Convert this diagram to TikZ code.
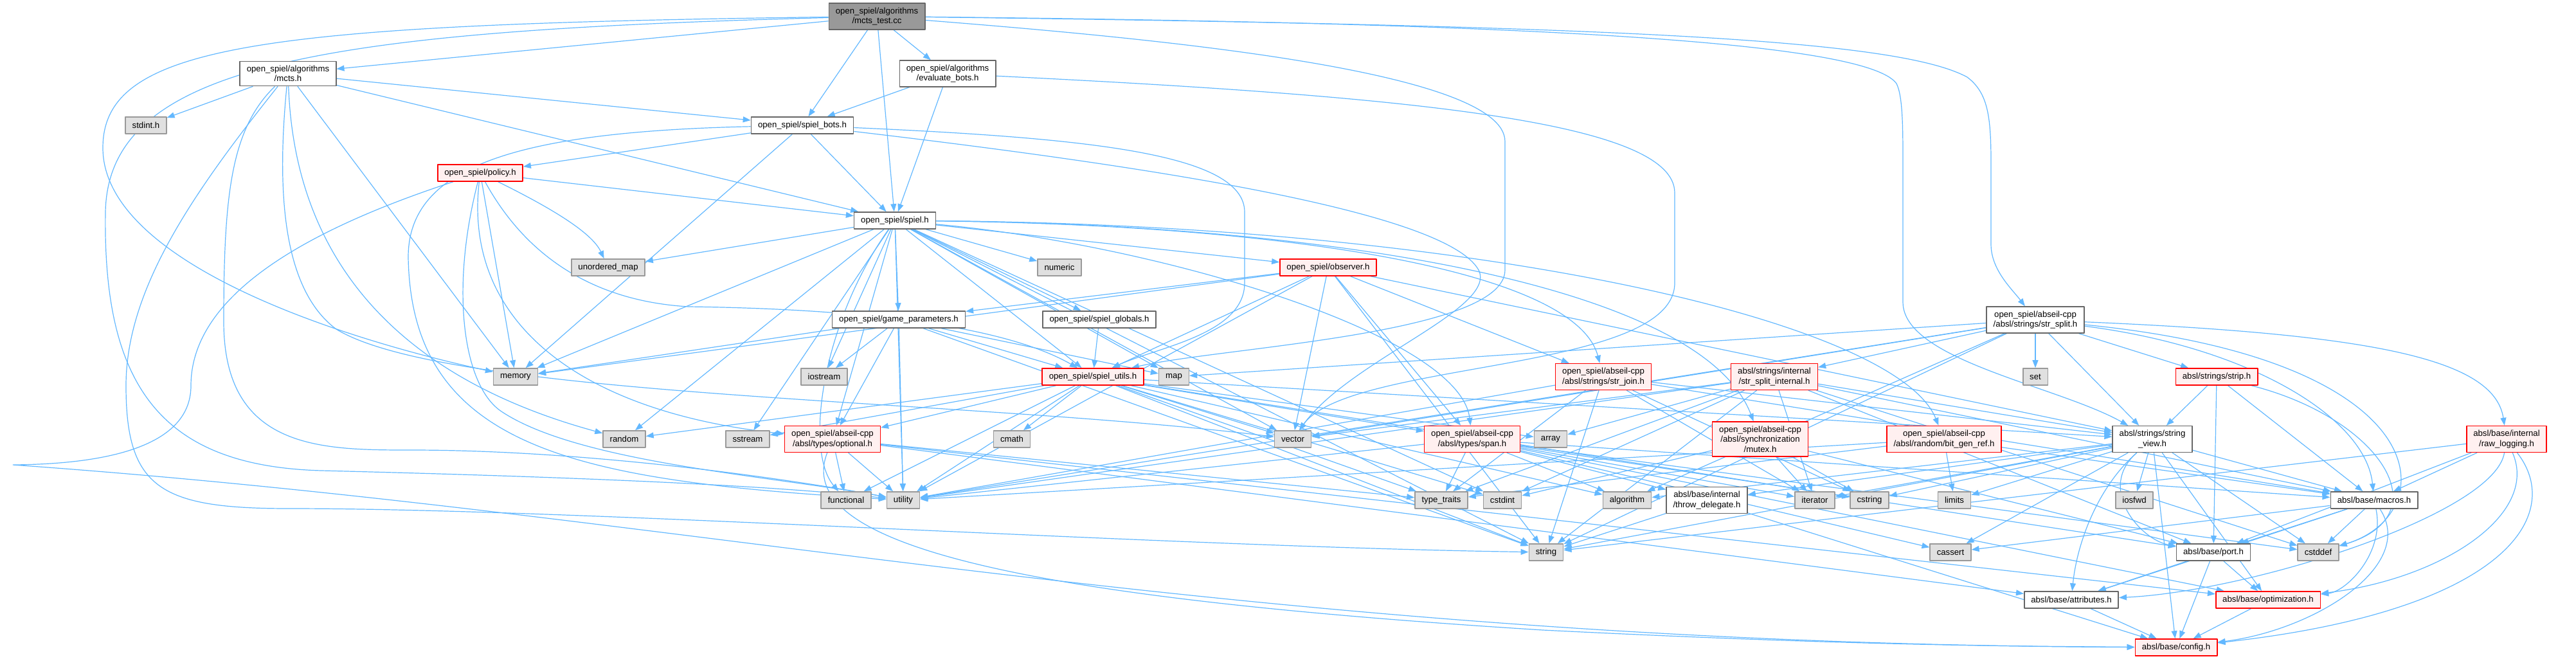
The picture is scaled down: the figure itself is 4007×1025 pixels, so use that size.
\documentclass[tikz,border=0pt]{standalone}
\usepackage{fontspec}
\setmainfont{Liberation Sans}
\usetikzlibrary{arrows.meta,backgrounds}
\definecolor{edgeblue}{HTML}{63B8FF}
\definecolor{redfill}{HTML}{FFF0F0}
\definecolor{sysfill}{HTML}{E0E0E0}
\definecolor{sysline}{HTML}{999999}
\definecolor{fileline}{HTML}{666666}
\definecolor{rootfill}{HTML}{999999}

\begin{document}
\begin{tikzpicture}[x=1pt,y=-1pt,>={Triangle[length=12pt,width=9pt]},line cap=round,line join=round,
  box/.style={draw,rectangle,line width=1.6pt,align=center,inner xsep=10.5pt,inner ysep=6.5pt,minimum height=26pt,font=\fontsize{13.2}{15.5}\selectfont},
  rootbox/.style={box,draw=fileline,fill=rootfill},
  filebox/.style={box,draw=fileline,fill=white},
  redbox/.style={box,draw=red,fill=redfill},
  sysbox/.style={box,draw=sysline,fill=sysfill},
  dep/.style={->,draw=edgeblue,line width=1.2pt}]
\useasboundingbox (0,0) rectangle (4007,1025);
\node[rootbox] (test) at (1364,25.5) {open\_spiel/algorithms\\/mcts\_test.cc};
\node[filebox] (mcts) at (448,114.5) {open\_spiel/algorithms\\/mcts.h};
\node[filebox] (evalb) at (1474,114.5) {open\_spiel/algorithms\\/evaluate\_bots.h};
\node[sysbox] (stdint) at (227,195) {stdint.h};
\node[filebox] (bots) at (1248,195) {open\_spiel/spiel\_bots.h};
\node[redbox] (policy) at (747,269) {open\_spiel/policy.h};
\node[filebox] (spiel) at (1392,343) {open\_spiel/spiel.h};
\node[sysbox] (umap) at (946,416) {unordered\_map};
\node[sysbox] (numeric) at (1648,416) {numeric};
\node[redbox] (observer) at (2066,416) {open\_spiel/observer.h};
\node[filebox] (gparams) at (1398,497) {open\_spiel/game\_parameters.h};
\node[filebox] (globals) at (1710,497) {open\_spiel/spiel\_globals.h};
\node[filebox] (strsplit) at (3166,497.5) {open\_spiel/abseil-cpp\\/absl/strings/str\_split.h};
\node[sysbox] (memory) at (802,586) {memory};
\node[sysbox] (iostream) at (1282,586) {iostream};
\node[redbox] (utils) at (1700,586) {open\_spiel/spiel\_utils.h};
\node[sysbox] (map) at (1826,586) {map};
\node[redbox] (strjoin) at (2494,586) {open\_spiel/abseil-cpp\\/absl/strings/str\_join.h};
\node[redbox] (splitint) at (2760,586) {absl/strings/internal\\/str\_split\_internal.h};
\node[sysbox] (set) at (3166,586) {set};
\node[redbox] (strip) at (3448,586) {absl/strings/strip.h};
\node[sysbox] (random) at (971,683) {random};
\node[sysbox] (sstream) at (1163,683) {sstream};
\node[redbox] (optional) at (1295,683) {open\_spiel/abseil-cpp\\/absl/types/optional.h};
\node[sysbox] (cmath) at (1574,683) {cmath};
\node[sysbox] (vector) at (2011,683) {vector};
\node[redbox] (span) at (2290,683) {open\_spiel/abseil-cpp\\/absl/types/span.h};
\node[sysbox] (array) at (2412,683) {array};
\node[redbox] (mutex) at (2738,683) {open\_spiel/abseil-cpp\\/absl/synchronization\\/mutex.h};
\node[redbox] (bitgen) at (3024,683) {open\_spiel/abseil-cpp\\/absl/random/bit\_gen\_ref.h};
\node[filebox] (strview) at (3348,683) {absl/strings/string\\\_view.h};
\node[redbox] (rawlog) at (3899,683) {absl/base/internal\\/raw\_logging.h};
\node[sysbox] (functional) at (1316,778) {functional};
\node[sysbox] (utility) at (1405,778) {utility};
\node[sysbox] (typetraits) at (2242,778) {type\_traits};
\node[sysbox] (cstdint) at (2337,778) {cstdint};
\node[sysbox] (algorithm) at (2531,778) {algorithm};
\node[filebox] (throwdel) at (2655,778) {absl/base/internal\\/throw\_delegate.h};
\node[sysbox] (iterator) at (2823,778) {iterator};
\node[sysbox] (cstring) at (2908,778) {cstring};
\node[sysbox] (limits) at (3040,778) {limits};
\node[sysbox] (iosfwd) at (3320,778) {iosfwd};
\node[filebox] (macros) at (3693,778) {absl/base/macros.h};
\node[sysbox] (string) at (2405,859) {string};
\node[sysbox] (cassert) at (3034,859) {cassert};
\node[filebox] (port) at (3443,859) {absl/base/port.h};
\node[sysbox] (cstddef) at (3606,859) {cstddef};
\node[filebox] (attributes) at (3222,933) {absl/base/attributes.h};
\node[redbox] (optimization) at (3528,933) {absl/base/optimization.h};
\node[redbox] (config) at (3385,1007) {absl/base/config.h};
\begin{pgfonlayer}{background}
\draw[dep] (test) -- (mcts);
\draw[dep] (test) -- (evalb);
\draw[dep] (test) -- (bots);
\draw[dep] (test) -- (spiel);
\draw[dep] (test) .. controls (1800,60) and (2341,110) .. (2341,220) -- (2341,420) .. controls (2341,520) and (1900,540) .. (utils);
\draw[dep] (test) .. controls (2500,40) and (2950,60) .. (3060,120) .. controls (3100,150) and (3097,200) .. (3097,300) -- (3097,380) .. controls (3097,420) and (3130,450) .. (strsplit);
\draw[dep] (test) .. controls (2300,35) and (2900,60) .. (2950,130) .. controls (2960,150) and (2960,200) .. (2960,260) -- (2960,470) .. controls (2960,560) and (3200,600) .. (strview);
\draw[dep] (test) .. controls (400,38) and (160,70) .. (160,230) .. controls (160,400) and (500,520) .. (memory);
\draw[dep] (test) .. controls (500,48) and (168,100) .. (164,330) .. controls (160,600) and (250,725) .. (500,732) .. controls (900,742) and (1200,755) .. (utility);
\draw[dep] (mcts) -- (stdint);
\draw[dep] (mcts) -- (bots);
\draw[dep] (mcts) -- (spiel);
\draw[dep] (mcts) -- (memory);
\draw[dep] (mcts) .. controls (455,300) and (520,560) .. (random);
\draw[dep] (mcts) .. controls (430,300) and (440,450) .. (523,512) .. controls (700,620) and (1500,620) .. (vector);
\draw[dep] (mcts) .. controls (360,200) and (348,300) .. (348,500) .. controls (348,700) and (500,700) .. (640,700) .. controls (900,700) and (1200,740) .. (utility);
\draw[dep] (mcts) .. controls (300,300) and (196,450) .. (196,600) .. controls (196,760) and (250,791) .. (450,791) .. controls (900,791) and (1800,850) .. (string);
\draw[dep] (evalb) -- (bots);
\draw[dep] (evalb) -- (spiel);
\draw[dep] (evalb) .. controls (2200,150) and (2605,190) .. (2605,300) -- (2605,440) .. controls (2605,580) and (2100,560) .. (vector);
\draw[dep] (bots) -- (policy);
\draw[dep] (bots) -- (spiel);
\draw[dep] (bots) -- (memory);
\draw[dep] (bots) .. controls (1700,215) and (1936,240) .. (1936,330) -- (1936,440) .. controls (1936,520) and (1800,540) .. (utils);
\draw[dep] (bots) .. controls (1800,260) and (2250,330) .. (2300,420) .. controls (2330,480) and (2100,560) .. (vector);
\draw[dep] (bots) .. controls (800,205) and (635,260) .. (635,400) .. controls (640,700) and (900,748) .. (utility);
\draw[dep] (policy) -- (spiel);
\draw[dep] (policy) .. controls (850,320) and (920,360) .. (umap);
\draw[dep] (policy) -- (memory);
\draw[dep] (policy) .. controls (700,450) and (720,600) .. (780,640) .. controls (900,720) and (1200,740) .. (utility);
\draw[dep] (policy) .. controls (720,500) and (900,640) .. (optional);
\draw[dep] (policy) .. controls (830,420) and (950,470) .. (1071,477) .. controls (1300,480) and (1550,500) .. (utils);
\draw[dep] (policy) .. controls (500,350) and (297,450) .. (297,600) .. controls (297,700) and (150,722) .. (20,723) .. controls (1100,800) and (1900,1000) .. (config);
\draw[dep] (spiel) -- (umap);
\draw[dep] (spiel) -- (numeric);
\draw[dep] (spiel) -- (observer);
\draw[dep] (spiel) -- (gparams);
\draw[dep] (spiel) -- (globals);
\draw[dep] (spiel) -- (utils);
\draw[dep] (spiel) -- (memory);
\draw[dep] (spiel) -- (iostream);
\draw[dep] (spiel) -- (map);
\draw[dep] (spiel) -- (random);
\draw[dep] (spiel) -- (sstream);
\draw[dep] (spiel) -- (optional);
\draw[dep] (spiel) -- (vector);
\draw[dep] (spiel) .. controls (1800,380) and (2270,520) .. (span);
\draw[dep] (spiel) .. controls (2000,350) and (2450,420) .. (strjoin);
\draw[dep] (spiel) .. controls (2100,350) and (2650,450) .. (mutex);
\draw[dep] (spiel) .. controls (2300,350) and (2950,500) .. (bitgen);
\draw[dep] (spiel) .. controls (1280,500) and (1250,700) .. (functional);
\draw[dep] (spiel) -- (utility);
\draw[dep] (spiel) -- (string);
\draw[dep] (spiel) -- (cstdint);
\draw[dep] (observer) -- (gparams);
\draw[dep] (observer) -- (utils);
\draw[dep] (observer) -- (span);
\draw[dep] (observer) -- (strjoin);
\draw[dep] (observer) -- (memory);
\draw[dep] (observer) -- (vector);
\draw[dep] (observer) -- (string);
\draw[dep] (observer) -- (utility);
\draw[dep] (observer) -- (strview);
\draw[dep] (gparams) -- (memory);
\draw[dep] (gparams) -- (iostream);
\draw[dep] (gparams) -- (map);
\draw[dep] (gparams) -- (optional);
\draw[dep] (gparams) -- (utils);
\draw[dep] (gparams) -- (string);
\draw[dep] (gparams) -- (utility);
\draw[dep] (globals) -- (utils);
\draw[dep] (strsplit) -- (algorithm);
\draw[dep] (strsplit) .. controls (3800,560) and (3800,800) .. (cstddef);
\draw[dep] (strsplit) -- (map);
\draw[dep] (strsplit) -- (set);
\draw[dep] (strsplit) -- (string);
\draw[dep] (strsplit) -- (utility);
\draw[dep] (strsplit) -- (vector);
\draw[dep] (strsplit) .. controls (3700,520) and (3880,560) .. (rawlog);
\draw[dep] (strsplit) .. controls (3500,540) and (3680,650) .. (macros);
\draw[dep] (strsplit) -- (splitint);
\draw[dep] (strsplit) -- (strview);
\draw[dep] (strsplit) -- (strip);
\draw[dep] (utils) -- (random);
\draw[dep] (utils) -- (sstream);
\draw[dep] (utils) -- (optional);
\draw[dep] (utils) -- (cmath);
\draw[dep] (utils) -- (vector);
\draw[dep] (utils) -- (span);
\draw[dep] (utils) -- (array);
\draw[dep] (utils) -- (functional);
\draw[dep] (utils) -- (utility);
\draw[dep] (utils) -- (typetraits);
\draw[dep] (utils) -- (cstdint);
\draw[dep] (utils) -- (algorithm);
\draw[dep] (utils) -- (string);
\draw[dep] (utils) -- (strview);
\draw[dep] (utils) -- (cstring);
\draw[dep] (strjoin) -- (cstring);
\draw[dep] (strjoin) -- (iterator);
\draw[dep] (strjoin) -- (string);
\draw[dep] (strjoin) -- (typetraits);
\draw[dep] (strjoin) -- (utility);
\draw[dep] (strjoin) -- (macros);
\draw[dep] (strjoin) -- (strview);
\draw[dep] (splitint) -- (array);
\draw[dep] (splitint) -- (cstddef);
\draw[dep] (splitint) -- (cstdint);
\draw[dep] (splitint) -- (iterator);
\draw[dep] (splitint) -- (string);
\draw[dep] (splitint) -- (typetraits);
\draw[dep] (splitint) -- (utility);
\draw[dep] (splitint) -- (vector);
\draw[dep] (splitint) -- (macros);
\draw[dep] (splitint) -- (port);
\draw[dep] (splitint) -- (strview);
\draw[dep] (span) -- (algorithm);
\draw[dep] (span) -- (cassert);
\draw[dep] (span) -- (cstddef);
\draw[dep] (span) -- (iterator);
\draw[dep] (span) -- (typetraits);
\draw[dep] (span) -- (utility);
\draw[dep] (span) -- (throwdel);
\draw[dep] (span) -- (macros);
\draw[dep] (span) -- (optimization);
\draw[dep] (span) -- (port);
\draw[dep] (mutex) -- (cstdint);
\draw[dep] (mutex) -- (iterator);
\draw[dep] (mutex) -- (cstring);
\draw[dep] (mutex) -- (port);
\draw[dep] (bitgen) -- (limits);
\draw[dep] (bitgen) -- (typetraits);
\draw[dep] (bitgen) -- (utility);
\draw[dep] (bitgen) -- (macros);
\draw[dep] (optional) -- (functional);
\draw[dep] (optional) -- (utility);
\draw[dep] (optional) -- (typetraits);
\draw[dep] (optional) -- (attributes);
\draw[dep] (optional) .. controls (1230,850) and (1600,930) .. (2400,980) .. controls (2900,1005) and (3150,1005) .. (config);
\draw[dep] (optional) -- (optimization);
\draw[dep] (strview) -- (algorithm);
\draw[dep] (strview) -- (cassert);
\draw[dep] (strview) -- (cstddef);
\draw[dep] (strview) -- (cstring);
\draw[dep] (strview) -- (iosfwd);
\draw[dep] (strview) -- (iterator);
\draw[dep] (strview) -- (limits);
\draw[dep] (strview) -- (string);
\draw[dep] (strview) -- (config);
\draw[dep] (strview) .. controls (3260,760) and (3230,850) .. (attributes);
\draw[dep] (strview) -- (optimization);
\draw[dep] (strview) .. controls (3260,760) and (3330,840) .. (port);
\draw[dep] (strview) -- (macros);
\draw[dep] (strview) -- (throwdel);
\draw[dep] (strip) -- (strview);
\draw[dep] (strip) -- (port);
\draw[dep] (strip) -- (macros);
\draw[dep] (strip) .. controls (3700,650) and (3800,800) .. (cstddef);
\draw[dep] (rawlog) -- (string);
\draw[dep] (rawlog) .. controls (3880,800) and (3500,920) .. (attributes);
\draw[dep] (rawlog) .. controls (3990,800) and (3900,950) .. (config);
\draw[dep] (rawlog) -- (macros);
\draw[dep] (rawlog) .. controls (3950,800) and (3800,900) .. (optimization);
\draw[dep] (rawlog) -- (port);
\draw[dep] (macros) -- (cassert);
\draw[dep] (macros) -- (cstddef);
\draw[dep] (macros) -- (attributes);
\draw[dep] (macros) .. controls (3760,880) and (3600,980) .. (config);
\draw[dep] (macros) .. controls (3710,860) and (3650,920) .. (optimization);
\draw[dep] (macros) -- (port);
\draw[dep] (throwdel) -- (string);
\draw[dep] (throwdel) -- (config);
\draw[dep] (port) -- (attributes);
\draw[dep] (port) -- (config);
\draw[dep] (port) -- (optimization);
\draw[dep] (attributes) -- (config);
\draw[dep] (optimization) -- (config);
\end{pgfonlayer}
\end{tikzpicture}
\end{document}
